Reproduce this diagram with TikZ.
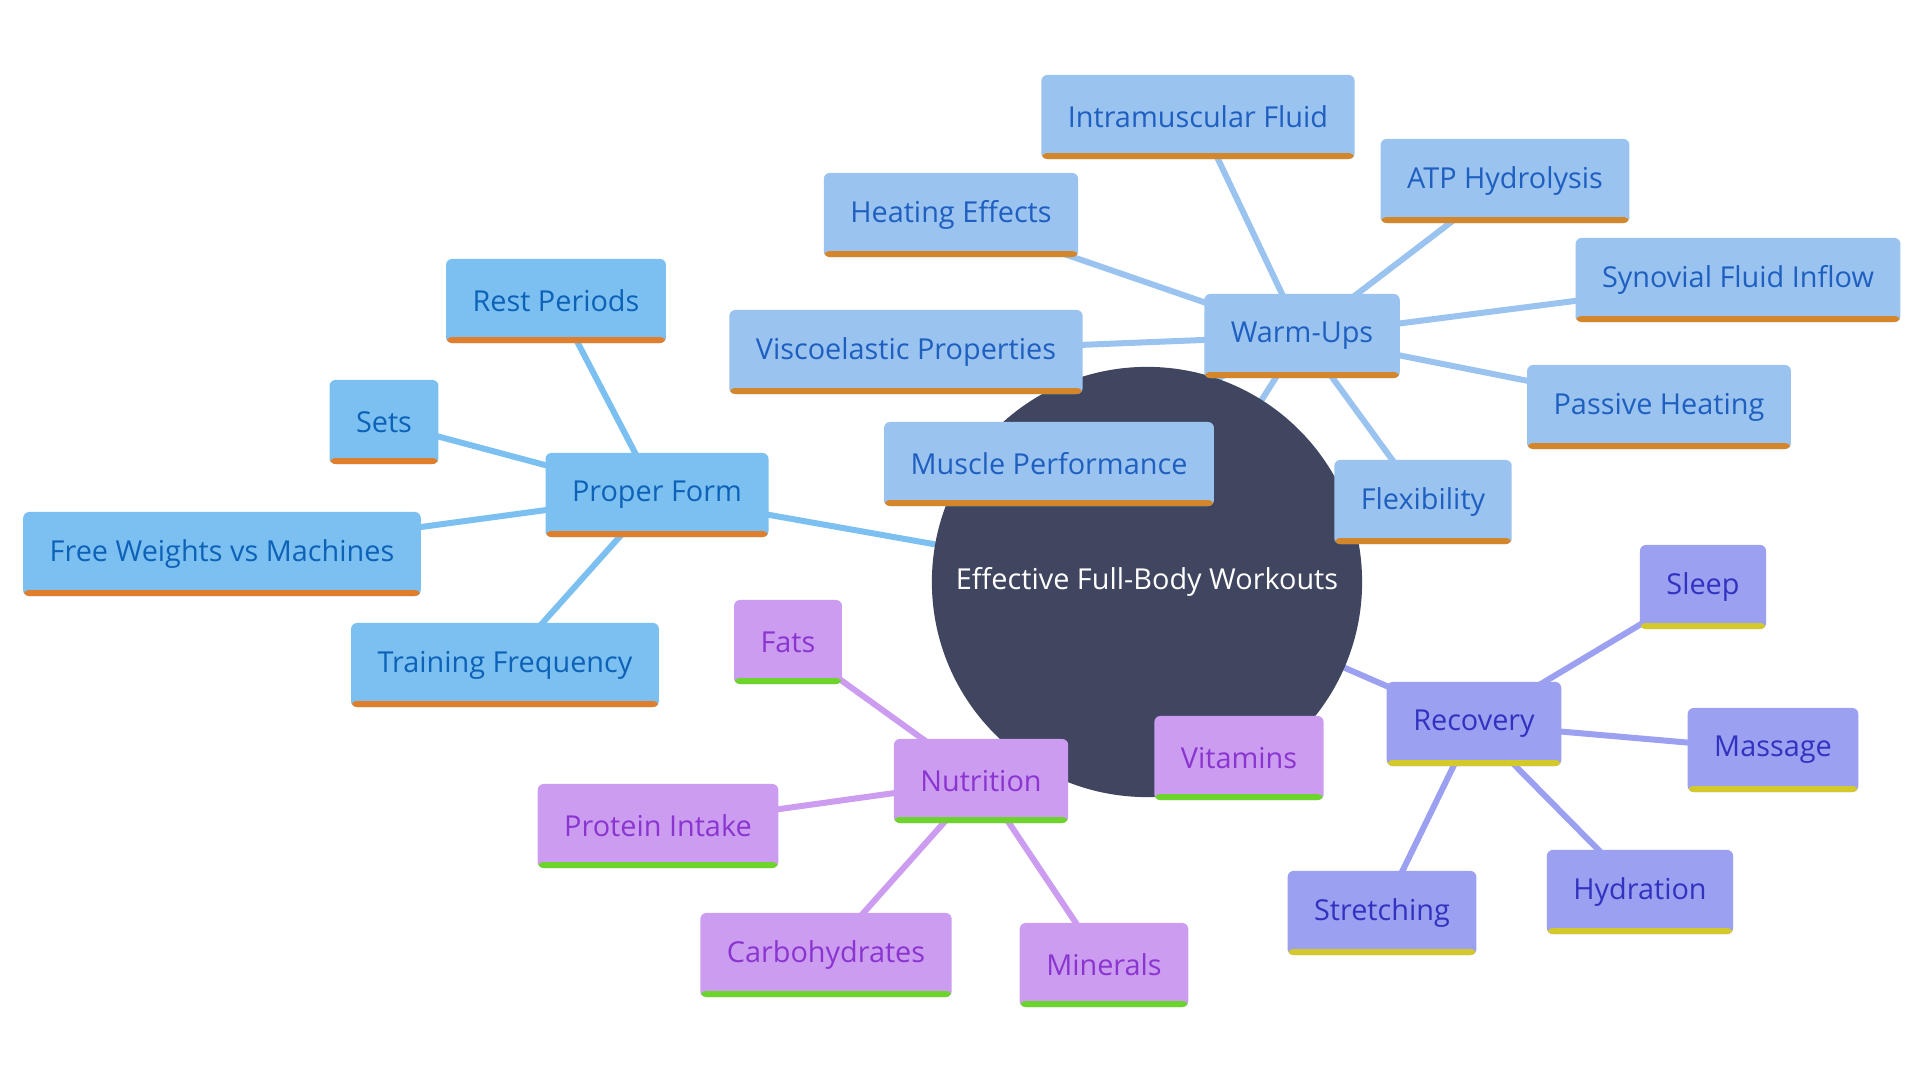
\documentclass[tikz,border=0pt]{standalone}
\usepackage{fontspec}
\setmainfont{Open Sans}
\usetikzlibrary{backgrounds}

\definecolor{hubfill}{HTML}{404660}
\definecolor{formfill}{HTML}{7BC0F0}
\definecolor{formtext}{HTML}{0D62B8}
\definecolor{formbar}{HTML}{E07E2C}
\definecolor{warmfill}{HTML}{9AC3EF}
\definecolor{warmtext}{HTML}{1E5FC0}
\definecolor{warmbar}{HTML}{D4862A}
\definecolor{recfill}{HTML}{9BA0F0}
\definecolor{rectext}{HTML}{3232C0}
\definecolor{recbar}{HTML}{D4C92A}
\definecolor{nutfill}{HTML}{CC9CF0}
\definecolor{nuttext}{HTML}{8A35D0}
\definecolor{nutbar}{HTML}{6CD42A}

\tikzset{
	topic/.style={rectangle, rounded corners=0.6mm, inner xsep=2.65mm, minimum height=8.4mm,
		font=\fontsize{8.2}{10}\selectfont,
		path picture={\fill[#1] (path picture bounding box.south west) rectangle ([yshift=0.6mm]path picture bounding box.south east);}},
	form/.style={topic=formbar, fill=formfill, text=formtext},
	warm/.style={topic=warmbar, fill=warmfill, text=warmtext},
	rec/.style={topic=recbar, fill=recfill, text=rectext},
	nut/.style={topic=nutbar, fill=nutfill, text=nuttext},
	link/.style={line width=0.6mm, color=#1}
}

\begin{document}
\begin{tikzpicture}[x=0.01cm, y=-0.01cm]
	\useasboundingbox (0,0) rectangle (1920,1080);
	
	\node[circle, fill=hubfill, minimum size=4.3cm, text=white, font=\fontsize{8.2}{10}\selectfont] (hub) at (1147,582) {Effective Full-Body Workouts};
	
	\node[form] (proper) at (657,495) {Proper Form};
	\node[form] (rest) at (556,301) {Rest Periods};
	\node[form] (sets) at (384,422) {Sets};
	\node[form] (free) at (222,554) {Free Weights vs Machines};
	\node[form] (freq) at (505,665) {Training Frequency};
	
	\node[warm] (warmups) at (1302,336) {Warm-Ups};
	\node[warm] (muscle) at (1049,464) {Muscle Performance};
	\node[warm] (visco) at (906,352) {Viscoelastic Properties};
	\node[warm] (heating) at (951,215) {Heating Effects};
	\node[warm] (intra) at (1198,117) {Intramuscular Fluid};
	\node[warm] (atp) at (1505,181) {ATP Hydrolysis};
	\node[warm] (synovial) at (1738,280) {Synovial Fluid Inflow};
	\node[warm] (passive) at (1659,407) {Passive Heating};
	\node[warm] (flex) at (1423,502) {Flexibility};
	
	\node[rec] (recovery) at (1474,724) {Recovery};
	\node[rec] (sleep) at (1703,587) {Sleep};
	\node[rec] (massage) at (1773,750) {Massage};
	\node[rec] (hydration) at (1640,892) {Hydration};
	\node[rec] (stretching) at (1382,913) {Stretching};
	
	\node[nut] (nutrition) at (981,781) {Nutrition};
	\node[nut] (vitamins) at (1239,758) {Vitamins};
	\node[nut] (fats) at (788,642) {Fats};
	\node[nut] (protein) at (658,826) {Protein Intake};
	\node[nut] (carbs) at (826,955) {Carbohydrates};
	\node[nut] (minerals) at (1104,965) {Minerals};
	
	\begin{scope}[on background layer]
		\foreach \leaf in {hub, rest, sets, free, freq}
			\draw[link=formfill] (proper.center) -- (\leaf.center);
		\foreach \leaf in {hub, muscle, visco, heating, intra, atp, synovial, passive, flex}
			\draw[link=warmfill] (warmups.center) -- (\leaf.center);
		\foreach \leaf in {hub, sleep, massage, hydration, stretching}
			\draw[link=recfill] (recovery.center) -- (\leaf.center);
		\foreach \leaf in {hub, vitamins, fats, protein, carbs, minerals}
			\draw[link=nutfill] (nutrition.center) -- (\leaf.center);
	\end{scope}
\end{tikzpicture}
\end{document}
